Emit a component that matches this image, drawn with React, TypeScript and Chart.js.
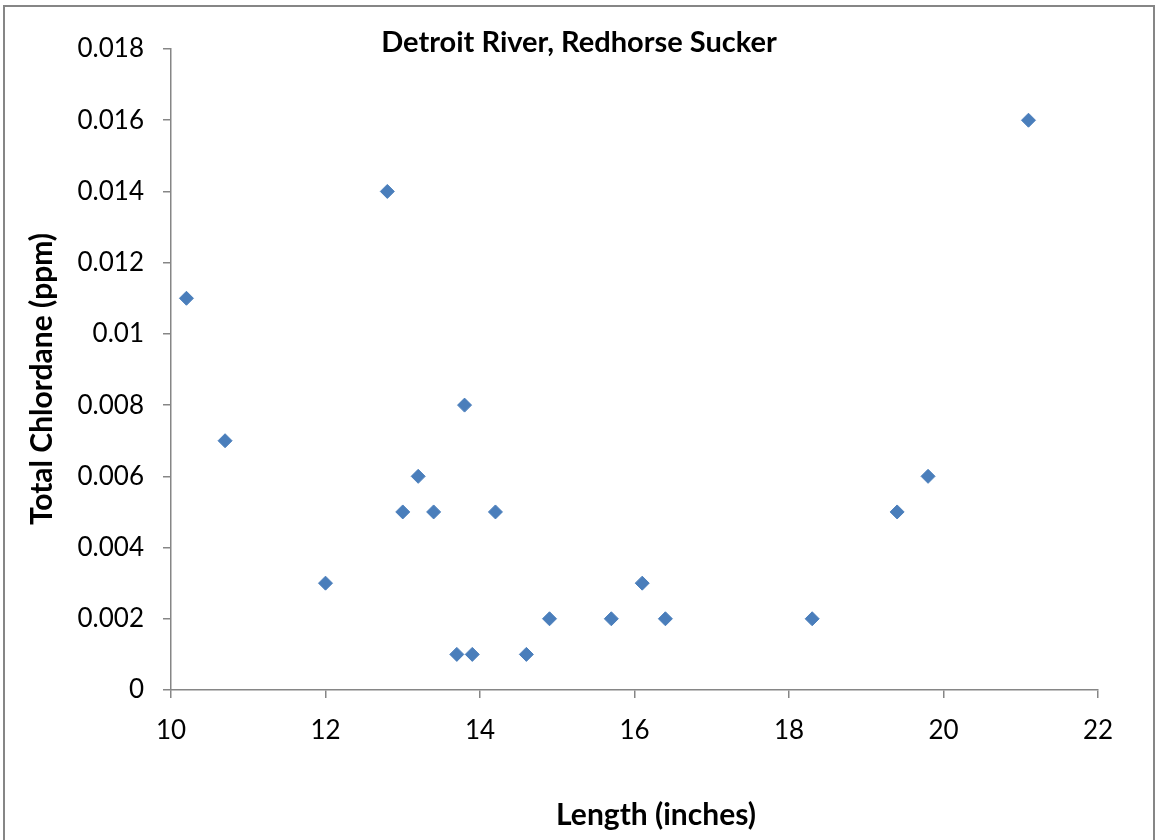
import React, { useEffect, useRef } from "react";
import { Chart, registerables } from "chart.js";

Chart.register(...registerables);

const chartTitle = "Detroit River, Redhorse Sucker";
const xTitle = "Length (inches)";
const yTitle = "Total Chlordane (ppm)";
const lengths = [10.2, 10.7, 12.0, 12.8, 13.0, 13.2, 13.4, 13.7, 13.8, 13.9, 14.2, 14.6, 14.9, 15.7, 16.1, 16.4, 18.3, 19.4, 19.8, 21.1];
const chlordane = [0.011, 0.007, 0.003, 0.014, 0.005, 0.006, 0.005, 0.001, 0.008, 0.001, 0.005, 0.001, 0.002, 0.002, 0.003, 0.002, 0.002, 0.005, 0.006, 0.016];
const xMin = 10, xMax = 22, xStep = 2;
const yMin = 0, yMax = 0.018, yStep = 0.002;

const FONT = "Lato, 'Open Sans', sans-serif";
const AXIS = "#868686";

export default function App() {
  const ref = useRef<HTMLCanvasElement | null>(null);
  useEffect(() => {
    if (!ref.current) return;
    const frame = {
      id: "frame",
      afterDraw(chart: any) {
        const ctx = chart.ctx;
        ctx.save();
        ctx.strokeStyle = AXIS;
        ctx.lineWidth = 2;
        ctx.strokeRect(4, 6, 1150, 1000);
        ctx.fillStyle = "#000";
        ctx.textAlign = "center";
        ctx.textBaseline = "middle";
        ctx.font = `bold 29px ${FONT}`;
        ctx.fillText(chartTitle, 579, 43);
        ctx.font = `bold 30px ${FONT}`;
        ctx.fillText(xTitle, 656, 815);
        ctx.translate(42, 379);
        ctx.rotate(-Math.PI / 2);
        ctx.font = `bold 30px ${FONT}`;
        ctx.fillText(yTitle, 0, 0);
        ctx.restore();
      },
    };
    const chart = new Chart(ref.current, {
      type: "scatter",
      data: {
        datasets: [
          {
            data: lengths.map((x, i) => ({ x, y: chlordane[i] })),
            pointStyle: "rectRot",
            pointRadius: 7,
            pointBorderWidth: 1,
            backgroundColor: "#4A7EBB",
            borderColor: "#4A7EBB",
          },
        ],
      },
      options: {
        responsive: false,
        animation: false,
        layout: { padding: { left: 0, top: 49, right: 58, bottom: 0 } },
        plugins: { legend: { display: false }, tooltip: { enabled: false }, title: { display: false } },
        scales: {
          x: {
            type: "linear",
            min: xMin,
            max: xMax,
            ticks: { stepSize: xStep, color: "#000", font: { family: FONT, size: 26 }, padding: 17, maxRotation: 0 },
            grid: { drawOnChartArea: false, drawTicks: true, tickLength: 8, color: AXIS, lineWidth: 1.5 },
            border: { color: AXIS, width: 1.5 },
            title: { display: false },
            afterFit(scale: any) { scale.height = 150; },
          },
          y: {
            type: "linear",
            min: yMin,
            max: yMax,
            ticks: {
              stepSize: yStep,
              color: "#000",
              font: { family: FONT, size: 26 },
              padding: 19,
              callback: (v: any) => String(Number(Number(v).toFixed(3))),
            },
            grid: { drawOnChartArea: false, drawTicks: true, tickLength: 8, color: AXIS, lineWidth: 1.5 },
            border: { color: AXIS, width: 1.5 },
            title: { display: false },
            afterFit(scale: any) { scale.width = 171; },
          },
        },
      },
      plugins: [frame],
    } as any);
    return () => chart.destroy();
  }, []);
  return (
    <div style={{ position: "absolute", left: 0, top: 0, width: 1156, height: 840, background: "#fff" }}>
      <canvas ref={ref} width={1156} height={840} />
    </div>
  );
}
